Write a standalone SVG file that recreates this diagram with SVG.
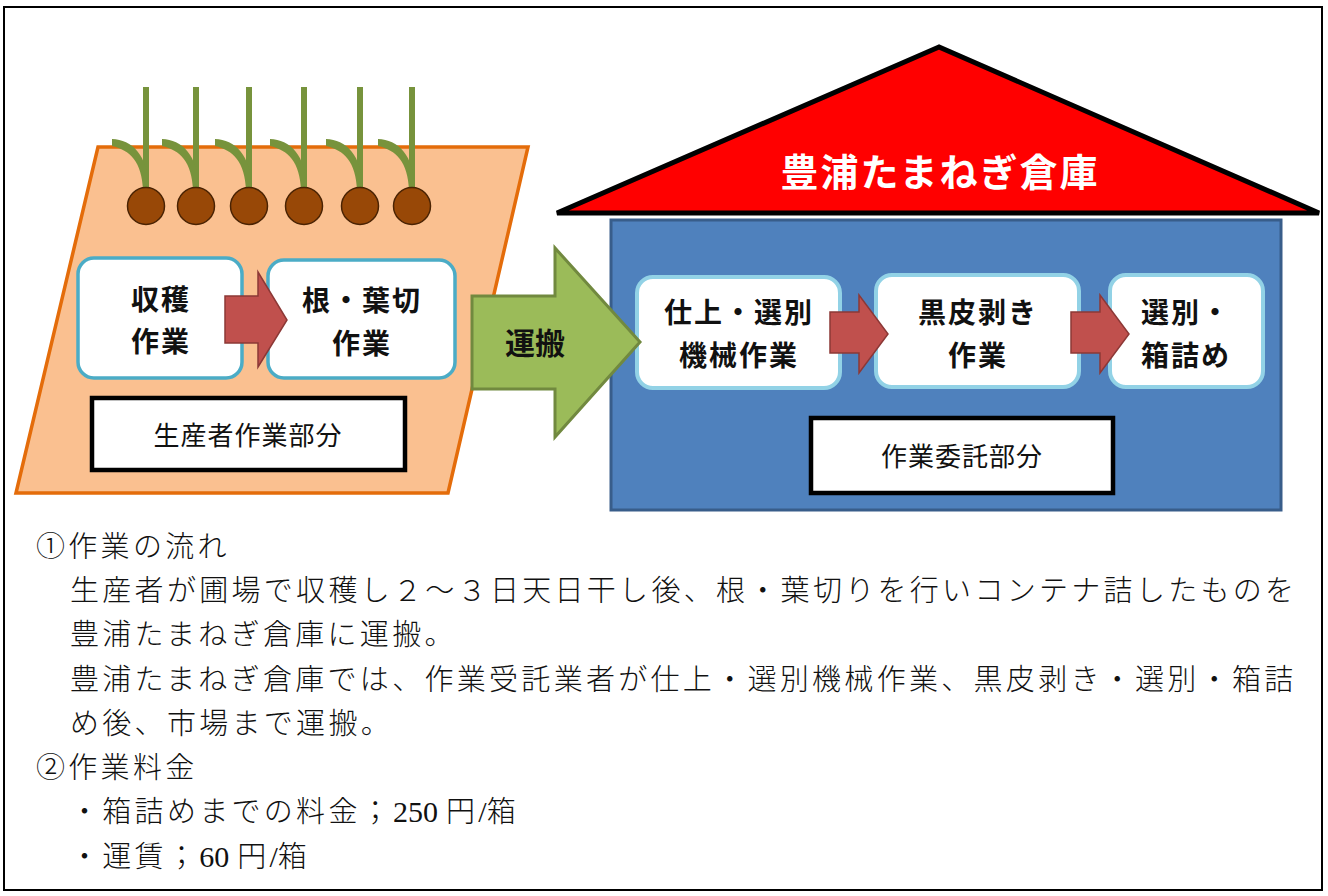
<svg xmlns="http://www.w3.org/2000/svg" width="1328" height="896" viewBox="0 0 1328 896">
  <defs>
    <style>
      .bold { font-family: "Noto Sans CJK JP", sans-serif; font-weight: 700; fill: #111; text-anchor: middle; }
      .label { font-family: "Noto Sans CJK JP", sans-serif; font-weight: 400; fill: #111; text-anchor: middle; font-size: 26px; letter-spacing: 1px; }
      .body { font-family: "Liberation Serif", "Noto Sans CJK JP", serif; font-size: 29px; font-weight: 300; fill: #111; letter-spacing: 3.3px; }
      .latin { letter-spacing: 0; font-size: 30px; }
      .step { fill: #fff; stroke: #4BACC6; stroke-width: 3.5; }
      .step2 { fill: #fff; stroke: #92D2E6; stroke-width: 4; }
      .tag { fill: #fff; stroke: #000; stroke-width: 4.5; }
      .red-arrow { fill: #C0504D; stroke: #8C3836; stroke-width: 1.5; stroke-linejoin: miter; }
      .stem { stroke: #77933C; stroke-width: 6; fill: none; }
      .leaf { fill: #77933C; }
      .bulb { fill: #984807; stroke: #4A2303; stroke-width: 1.5; }
    </style>
    <g id="onion">
      <line class="stem" x1="0" y1="87" x2="0" y2="195"/>
      <path class="leaf" d="M-34,139 C-14,140 2,154 3,190 L-3,190 C-4,162 -16,150 -34,146 Z"/>
      <circle class="bulb" cx="0" cy="206" r="18.5"/>
    </g>
  </defs>

  <rect width="1328" height="896" fill="#fff"/>
  <!-- frame -->
  <rect x="4" y="7" width="1318" height="883" fill="none" stroke="#000" stroke-width="2"/>

  <!-- producer field -->
  <g id="field">
    <polygon points="98,147 528,147 448,493 16,493" fill="#FAC090" stroke="#E46C0A" stroke-width="3.5"/>
    <use href="#onion" x="146"/>
    <use href="#onion" x="196"/>
    <use href="#onion" x="249"/>
    <use href="#onion" x="304"/>
    <use href="#onion" x="360"/>
    <use href="#onion" x="412"/>
  </g>

  <g id="harvest">
    <rect class="step" x="78" y="258" width="164" height="120" rx="16"/>
    <text class="bold" font-size="28" letter-spacing="2" x="161" y="310">収穫</text>
    <text class="bold" font-size="28" letter-spacing="2" x="161" y="352">作業</text>
  </g>

  <g id="trim">
    <rect class="step" x="268" y="260" width="187" height="118" rx="16"/>
    <text class="bold" font-size="28" letter-spacing="2" x="362" y="311">根・葉切</text>
    <text class="bold" font-size="28" letter-spacing="2" x="362" y="354">作業</text>
  </g>

  <g id="producer-label">
    <rect class="tag" x="92" y="398" width="313" height="72"/>
    <text class="label" x="248" y="445">生産者作業部分</text>
  </g>

  <!-- warehouse -->
  <g id="roof">
    <polygon points="939,47 557,213 1319,213" fill="#FF0000" stroke="#000" stroke-width="5" stroke-linejoin="miter"/>
    <text class="bold" font-size="38" letter-spacing="2" x="940" y="186" style="fill:#fff">豊浦たまねぎ倉庫</text>
  </g>

  <g id="warehouse">
    <rect x="611" y="220" width="670" height="290" fill="#4F81BD" stroke="#385D8A" stroke-width="3"/>
  </g>

  <g id="finishing">
    <rect class="step2" x="637" y="277" width="203" height="111" rx="16"/>
    <text class="bold" font-size="28" letter-spacing="2" x="739" y="323">仕上・選別</text>
    <text class="bold" font-size="28" letter-spacing="2" x="739" y="366">機械作業</text>
  </g>

  <g id="peeling">
    <rect class="step2" x="876" y="275" width="203" height="112" rx="16"/>
    <text class="bold" font-size="28" letter-spacing="2" x="978" y="323">黒皮剥き</text>
    <text class="bold" font-size="28" letter-spacing="2" x="978" y="366">作業</text>
  </g>

  <g id="packing">
    <rect class="step2" x="1110" y="275" width="153" height="112" rx="16"/>
    <text class="bold" font-size="28" letter-spacing="2" x="1186" y="323">選別・</text>
    <text class="bold" font-size="28" letter-spacing="2" x="1186" y="366">箱詰め</text>
  </g>

  <g id="contract-label">
    <rect class="tag" x="811" y="418" width="302" height="75"/>
    <text class="label" x="962" y="466">作業委託部分</text>
  </g>

  <!-- connectors -->
  <g id="connectors">
    <polygon class="red-arrow" points="225,296 258,296 258,272 287,320 258,367 258,343 225,343"/>
    <polygon class="red-arrow" points="830,312 859,312 859,295 888,334 859,373 859,353 830,353"/>
    <polygon class="red-arrow" points="1071,312 1100,312 1100,295 1129,334 1100,373 1100,353 1071,353"/>
    <g id="transport">
      <polygon points="472,296 555,296 555,248 640,342 555,437 555,389 472,389" fill="#9BBB59" stroke="#71893F" stroke-width="3" stroke-linejoin="miter"/>
      <text class="bold" font-size="30" x="535" y="354">運搬</text>
    </g>
  </g>

  <!-- notes -->
  <g id="notes">
    <text class="body" x="36" y="557">①作業の流れ</text>
    <text class="body" x="70" y="601">生産者が圃場で収穫し２～３日天日干し後、根・葉切りを行いコンテナ詰したものを</text>
    <text class="body" x="70" y="645">豊浦たまねぎ倉庫に運搬。</text>
    <text class="body" x="70" y="690">豊浦たまねぎ倉庫では、作業受託業者が仕上・選別機械作業、黒皮剥き・選別・箱詰</text>
    <text class="body" x="70" y="734">め後、市場まで運搬。</text>
    <text class="body" x="36" y="778">②作業料金</text>
    <text class="body" x="70" y="822">・箱詰めまでの料金；<tspan class="latin">250</tspan><tspan dx="8">円</tspan><tspan class="latin">/</tspan>箱</text>
    <text class="body" x="70" y="867">・運賃；<tspan class="latin">60</tspan><tspan dx="8">円</tspan><tspan class="latin">/</tspan>箱</text>
  </g>
</svg>
